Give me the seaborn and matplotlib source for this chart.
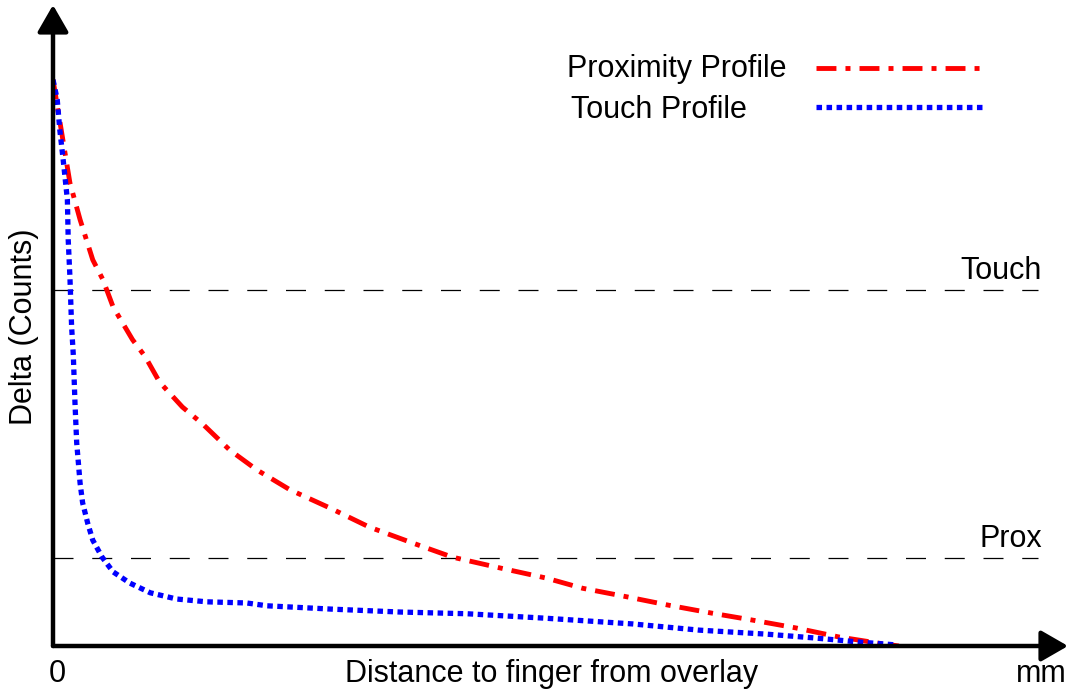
import numpy as np
import seaborn as sns
import matplotlib.pyplot as plt

# curve values (x in arbitrary mm units, y in counts)
prox_x = [0, 0.20, 0.32, 0.47, 0.59, 0.71, 0.94, 1.09, 1.26, 1.53, 1.77, 2.09, 2.41, 2.80,
          3.27, 3.74, 4.25, 4.72, 5.28, 5.83, 6.26, 6.78, 7.28, 7.79, 8.26, 8.78, 9.29, 9.76, 10.0]
prox_y = [100, 81.8, 75.3, 68.2, 64.7, 59.9, 54.1, 51.1, 46.6, 42.2, 39.2, 34.6, 31.1, 27.6,
          24.4, 21.0, 18.2, 15.7, 13.8, 12.0, 10.2, 8.7, 7.2, 5.8, 4.6, 3.2, 1.6, 0.5, 0]

touch_x = [0, 0.05, 0.08, 0.12, 0.17, 0.18, 0.20, 0.22, 0.24, 0.26, 0.28, 0.32, 0.35, 0.41,
           0.47, 0.58, 0.71, 0.91, 1.15, 1.46, 1.82, 2.29, 2.53, 3.31, 4.10, 4.89, 5.83,
           6.85, 7.64, 8.43, 9.02, 9.53, 9.96]
touch_y = [100, 96.5, 91.2, 85.9, 78.8, 71.7, 65.2, 56.4, 51.4, 42.9, 35.9, 28.8, 25.3, 21.7,
           18.7, 15.7, 13.1, 11.1, 9.4, 8.3, 7.8, 7.6, 7.1, 6.5, 6.0, 5.7, 4.9,
           3.9, 2.8, 2.1, 1.4, 0.7, 0.2]

thresholds = [62.9, 15.5]
threshold_labels = ["Touch", "Prox"]
series_labels = ["Proximity Profile", "Touch Profile"]

sns.set_style("white")
plt.rcParams['font.family'] = ['Liberation Sans', 'DejaVu Sans']
plt.rcParams['text.color'] = 'black'
plt.rcParams['axes.labelcolor'] = 'black'
plt.rcParams['xtick.color'] = 'black'
FS = 22

fig = plt.figure(figsize=(10.73, 6.95), dpi=100)
ax = fig.add_axes([53 / 1073, 49 / 695, 1015 / 1073, 641 / 695])
ax.set_xlim(0, 12)
ax.set_ylim(0, 113.2)

# threshold lines
for yv, lab in zip(thresholds, threshold_labels):
    ax.plot([0, 11.65], [yv, yv], color="black", lw=0.9, linestyle=(0, (16, 15)))
    ax.text(11.69, yv + 1.9, lab, ha="right", va="baseline", fontsize=FS)

red_style = dict(color="#ff0000", lw=3.5, linestyle=(0, (4.1, 1.86, 1.03, 1.86)))
blue_style = dict(color="#0000ff", lw=3.8, linestyle=(0, (1.05, 0.85)))

sns.lineplot(x=prox_x, y=prox_y, ax=ax, sort=False, estimator=None, **red_style)
sns.lineplot(x=touch_x, y=touch_y, ax=ax, sort=False, estimator=None, **blue_style)

# legend: text on the left, line sample on the right
ax.text(6.08, 100.5, series_labels[0], ha="left", va="baseline", fontsize=FS)
ax.plot([9.02, 10.98], [102.1, 102.1], **red_style)
ax.text(6.12, 93.3, series_labels[1], ha="left", va="baseline", fontsize=FS)
ax.plot([9.02, 11.0], [95.1, 95.1], **blue_style)

# axes drawn as arrows
for sp in ax.spines.values():
    sp.set_visible(False)
arrow = dict(arrowstyle="-|>,head_length=1.65,head_width=0.95", lw=3.2, color="black",
             shrinkA=0, shrinkB=0, mutation_scale=10)
ax.annotate("", xy=(12, 0), xytext=(0, 0), arrowprops=arrow, annotation_clip=False)
ax.annotate("", xy=(0, 113.2), xytext=(0, 0), arrowprops=arrow, annotation_clip=False)

ax.set_xticks([0.05, 11.68])
ax.set_xticklabels(["0", "mm"], fontsize=FS)
ax.set_yticks([])
ax.tick_params(axis="x", length=0, pad=9.5)

ax.set_xlabel("Distance to finger from overlay", fontsize=FS)
ax.xaxis.set_label_coords(0.4916, -0.021)
ax.set_ylabel("Delta (Counts)", fontsize=FS)
ax.yaxis.set_label_coords(-0.0135, 0.4977)

fig.savefig("out.png", dpi=100)
